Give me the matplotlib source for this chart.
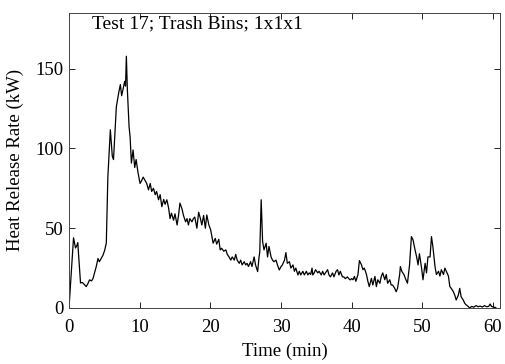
import matplotlib
matplotlib.use("Agg")
import matplotlib.pyplot as plt

# Test 17 heat release rate
time_min = [
    0.0, 0.64, 0.92, 1.1, 1.25, 1.3, 1.63, 1.9, 2.2, 2.44, 2.7, 2.9, 3.2, 3.4, 3.86,
    4.1, 4.3, 4.55, 4.8, 5.04, 5.28, 5.5, 5.85, 6.13, 6.3, 6.7, 7.03, 7.27, 7.45,
    7.6, 7.88, 8.0, 8.12, 8.26, 8.5, 8.65, 8.83, 9.07, 9.3, 9.5, 9.78, 10.06, 10.3,
    10.5, 10.75, 11.0, 11.25, 11.5, 11.7, 11.95, 12.2, 12.4, 12.67, 12.9, 13.14,
    13.4, 13.6, 13.85, 14.1, 14.3, 14.5, 14.8, 15.0, 15.3, 15.5, 15.7, 16.0, 16.2,
    16.5, 16.7, 16.9, 17.1, 17.4, 17.6, 17.8, 18.1, 18.35, 18.6, 18.8, 19.05, 19.3,
    19.5, 19.8, 20.05, 20.4, 20.7, 20.9, 21.2, 21.4, 21.6, 21.9, 22.2, 22.4, 22.65,
    22.9, 23.1, 23.4, 23.6, 23.8, 24.1, 24.3, 24.5, 24.8, 25.0, 25.2, 25.4, 25.7,
    25.9, 26.2, 26.4, 26.7, 26.9, 27.0, 27.2, 27.4, 27.6, 27.9, 28.1, 28.3, 28.6,
    28.8, 29.0, 29.3, 29.5, 29.76, 30.0, 30.2, 30.5, 30.7, 30.9, 31.2, 31.4, 31.7,
    31.9, 32.1, 32.4, 32.6, 32.8, 33.1, 33.3, 33.6, 33.8, 34.0, 34.2, 34.4, 34.5,
    34.7, 34.9, 35.2, 35.4, 35.7, 35.9, 36.1, 36.3, 36.6, 36.8, 37.0, 37.3, 37.5,
    37.8, 38.0, 38.2, 38.4, 38.7, 38.9, 39.1, 39.4, 39.6, 39.8, 40.0, 40.2, 40.4,
    40.6, 40.9, 41.1, 41.4, 41.6, 41.8, 42.1, 42.3, 42.5, 42.8, 43.0, 43.3, 43.5,
    43.7, 44.0, 44.2, 44.4, 44.7, 44.9, 45.1, 45.4, 45.6, 45.8, 46.1, 46.3, 46.5,
    46.8, 46.9, 47.1, 47.4, 47.6, 47.9, 48.2, 48.46, 48.7, 48.9, 49.2, 49.4, 49.6,
    49.9, 50.1, 50.4, 50.6, 50.8, 51.1, 51.3, 51.5, 51.8, 52.0, 52.3, 52.5, 52.7,
    53.0, 53.2, 53.4, 53.7, 53.9, 54.1, 54.4, 54.6, 54.8, 55.1, 55.3, 55.5, 55.8,
    56.0, 56.2, 56.5, 56.7, 57.0, 57.3, 57.6, 57.9, 58.2, 58.5, 58.8, 59.1, 59.4,
    59.6, 59.8, 60.1, 60.4,
]
hrr_kw = [
    0.0, 44.0, 37.6, 39.0, 41.0, 37.0, 15.7, 16.0, 14.5, 13.4, 15.5, 17.6, 17.0, 18.5, 26.0,
    31.0, 29.0, 31.0, 33.0, 36.0, 40.6, 82.0, 111.7, 95.0, 93.0, 126.0, 134.7, 140.0, 133.0,
    136.0, 142.0, 139.0, 157.7, 136.8, 113.7, 107.0, 90.8, 99.0, 88.0, 93.0, 84.5, 78.0, 80.0,
    82.0, 80.0, 78.0, 74.0, 78.0, 73.0, 75.0, 71.0, 73.0, 67.8, 71.0, 63.5,
    68.0, 65.0, 67.8, 62.6, 56.0, 59.4, 55.0, 59.0, 52.0, 58.0, 65.7, 62.0, 58.0,
    54.0, 56.0, 52.0, 56.0, 54.0, 56.0, 57.0, 50.0, 60.0, 56.0, 52.0, 58.0, 50.0,
    58.3, 52.0, 49.0, 40.6, 43.6, 40.0, 43.0, 36.4, 37.4, 35.6, 36.4, 33.6, 32.0,
    30.0, 32.0, 30.0, 33.6, 30.0, 28.0, 30.0, 27.0, 29.0, 27.0, 28.0, 26.0, 29.0,
    26.0, 32.0, 27.0, 22.8, 32.0, 35.0, 67.8, 41.6, 36.4, 40.6, 32.0, 38.6, 32.0,
    30.0, 29.0, 30.0, 27.0, 23.8, 25.9, 27.0, 30.0, 34.7, 28.0, 29.0, 25.0, 27.0,
    23.0, 25.0, 20.7, 23.0, 20.7, 23.0, 20.7, 23.0, 20.7, 22.0, 21.0, 25.0, 20.7,
    22.0, 24.0, 22.0, 23.0, 20.7, 23.0, 20.7, 22.0, 24.0, 20.7, 19.5, 22.0, 19.5,
    23.0, 24.0, 20.7, 23.0, 19.5, 19.5, 18.4, 19.5, 18.4, 17.6, 18.4, 17.7, 19.8,
    16.7, 21.0, 29.7, 27.0, 24.0, 25.0, 21.0, 16.7, 13.4, 18.6, 14.4, 19.8, 13.4,
    17.7, 15.5, 19.8, 22.0, 17.7, 21.0, 15.5, 17.7, 14.4, 14.4, 12.3, 10.2, 12.3,
    21.0, 26.0, 23.0, 21.0, 18.6, 15.5, 27.0, 44.7, 42.6, 38.0, 32.0, 27.0, 34.0,
    25.0, 17.7, 28.0, 22.0, 32.0, 32.0, 44.7, 38.5, 26.0, 21.0, 23.0, 20.0, 24.0,
    21.0, 25.0, 23.0, 20.0, 13.4, 12.3, 10.2, 8.0, 5.0, 8.0, 12.3, 7.0, 5.0,
    3.0, 2.0, 1.0, 0.0, 1.0, 0.5, 1.5, 0.8, 1.2, 0.6, 1.5, 0.8, 1.0,
    2.5, 1.0, 0.5, 0.3,
]

TITLE = "Test 17; Trash Bins; 1x1x1"

plt.rcParams["font.family"] = ["Liberation Serif", "DejaVu Serif"]
plt.rcParams["font.size"] = 13.5

fig = plt.figure(figsize=(5.06, 3.64), dpi=100)
ax = fig.add_axes([69 / 506, 56 / 364, 431 / 506, 295.3 / 364])

ax.plot(time_min, hrr_kw, color="black", lw=0.9)

ax.set_xlim(0, 61)
ax.set_ylim(0, 185)
ax.set_xticks(range(0, 61, 10))
ax.set_yticks([0, 50, 100, 150])
ax.tick_params(direction="in", top=True, right=True, length=4, width=0.6)
ax.tick_params(axis="x", pad=8)
ax.tick_params(axis="y", pad=4)
for s in ax.spines.values():
    s.set_linewidth(0.7)
    s.set_color("#444444")

ax.set_xlabel("Time (min)", labelpad=5)
ax.set_ylabel("Heat Release Rate (kW)", labelpad=8)
ax.text(0.053, 0.99, TITLE, transform=ax.transAxes, ha="left", va="top",
        fontsize=14)

fig.savefig("out.png", dpi=100)
